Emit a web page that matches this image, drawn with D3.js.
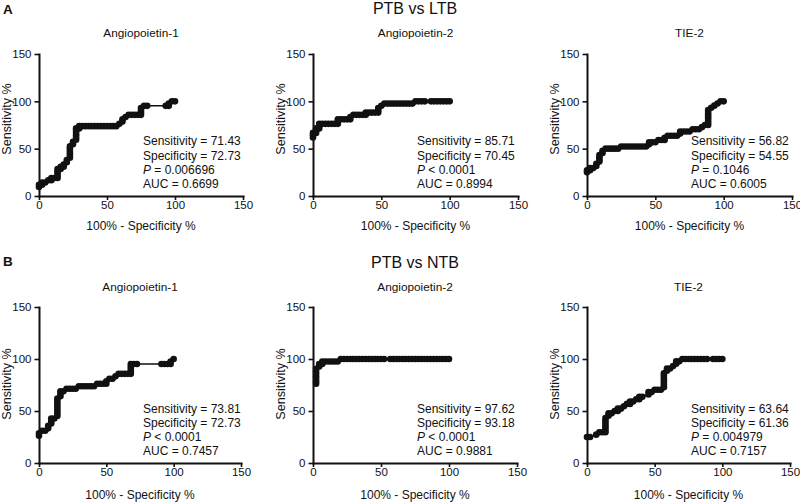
<!DOCTYPE html>
<html><head><meta charset="utf-8">
<script src="https://cdn.jsdelivr.net/npm/d3@7"></script>
<style>
html,body{margin:0;padding:0;background:#fff;}
svg{display:block;font-family:"Liberation Sans",Arial,sans-serif;}
</style></head>
<body><svg id="c" width="800" height="502"></svg>
<script>
// ---------- data ----------
const rowTitles = ["PTB vs LTB", "PTB vs NTB"];
const rowLetters = ["A", "B"];
const markers = ["Angiopoietin-1", "Angiopoietin-2", "TIE-2"];
const xTicks = [0, 50, 100, 150];
const yTicks = [0, 50, 100, 150];
const xLabel = "100% - Specificity %";
const yLabel = "Sensitivity %";

const sensValues = ["71.43", "85.71", "56.82", "73.81", "97.62", "63.64"];
const specValues = ["72.73", "70.45", "54.55", "72.73", "93.18", "61.36"];
const pValues = ["= 0.006696", "< 0.0001", "= 0.1046", "< 0.0001", "< 0.0001", "= 0.004979"];
const aucValues = ["0.6699", "0.8994", "0.6005", "0.7457", "0.9881", "0.7157"];

// ROC points: [100% - specificity, sensitivity]
const ltbAng1 = [[0,9.52],[0,11.9],[2.27,11.9],[2.27,14.29],[4.55,14.29],[6.82,16.67],[9.09,16.67],[9.09,19.05],[11.36,19.05],[13.64,19.05],[13.64,21.43],[13.64,23.81],[13.64,26.19],[13.64,28.57],[15.91,28.57],[15.91,30.95],[18.18,30.95],[18.18,33.33],[20.45,35.71],[20.45,38.1],[22.73,40.48],[22.73,42.86],[22.73,45.24],[22.73,47.62],[22.73,50],[22.73,52.38],[25,54.76],[25,57.14],[27.27,59.52],[27.27,61.9],[27.27,64.29],[27.27,66.67],[27.27,69.05],[27.27,71.43],[29.55,71.43],[29.55,73.81],[31.82,73.81],[34.09,73.81],[36.36,73.81],[38.64,73.81],[40.91,73.81],[43.18,73.81],[45.45,73.81],[47.73,73.81],[50,73.81],[52.27,73.81],[54.55,73.81],[56.82,73.81],[59.09,76.19],[61.36,78.57],[61.36,80.95],[63.64,83.33],[65.91,85.71],[68.18,85.71],[70.45,85.71],[72.73,85.71],[75,85.71],[75,88.1],[75,90.48],[75,92.86],[77.27,95.24],[79.55,95.24],[93.18,95.24],[95.45,95.24],[95.45,97.62],[97.73,100],[100,100]];
const ltbAng2 = [[0,61.9],[0,64.29],[0,66.67],[2.27,66.67],[2.27,69.05],[2.27,71.43],[4.55,71.43],[4.55,73.81],[4.55,76.19],[6.82,76.19],[9.09,76.19],[11.36,76.19],[13.64,76.19],[15.91,76.19],[18.18,76.19],[18.18,78.57],[18.18,80.95],[20.45,80.95],[22.73,80.95],[25,80.95],[27.27,80.95],[27.27,83.33],[29.55,85.71],[31.82,85.71],[34.09,85.71],[36.36,85.71],[38.64,85.71],[38.64,88.1],[40.91,88.1],[43.18,88.1],[45.45,88.1],[47.73,88.1],[47.73,90.48],[47.73,92.86],[50,95.24],[52.27,97.62],[54.55,97.62],[56.82,97.62],[59.09,97.62],[61.36,97.62],[63.64,97.62],[65.91,97.62],[68.18,97.62],[70.45,97.62],[72.73,97.62],[75,100],[77.27,100],[79.55,100],[81.82,100],[86.36,100],[88.64,100],[90.91,100],[93.18,100],[95.45,100],[97.73,100],[100,100]];
const ltbTie2 = [[0,25],[0,27.27],[2.27,27.27],[2.27,29.55],[4.55,29.55],[6.82,31.82],[6.82,34.09],[9.09,36.36],[9.09,38.64],[9.09,40.91],[9.09,43.18],[11.36,45.45],[11.36,47.73],[13.64,50],[15.91,50],[18.18,50],[20.45,50],[22.73,50],[25,52.27],[27.27,52.27],[29.55,52.27],[31.82,52.27],[34.09,52.27],[36.36,52.27],[38.64,52.27],[40.91,52.27],[43.18,52.27],[45.45,54.55],[45.45,56.82],[47.73,56.82],[50,56.82],[52.27,59.09],[54.55,59.09],[56.82,59.09],[56.82,61.36],[59.09,63.64],[61.36,63.64],[63.64,63.64],[65.91,63.64],[68.18,65.91],[68.18,68.18],[70.45,68.18],[72.73,68.18],[75,68.18],[77.27,70.45],[79.55,70.45],[81.82,70.45],[84.09,72.73],[86.36,75],[88.64,75],[88.64,77.27],[88.64,79.55],[88.64,81.82],[88.64,84.09],[88.64,86.36],[88.64,88.64],[88.64,90.91],[90.91,93.18],[93.18,95.45],[95.45,97.73],[97.73,100],[100,100]];
const ntbAng1 = [[0,26.19],[0,28.57],[2.27,30.95],[4.55,30.95],[6.82,33.33],[6.82,35.71],[9.09,38.1],[9.09,40.48],[9.09,42.86],[11.36,42.86],[13.64,45.24],[13.64,47.62],[13.64,50],[13.64,52.38],[13.64,54.76],[13.64,57.14],[13.64,59.52],[13.64,61.9],[15.91,64.29],[15.91,66.67],[15.91,69.05],[18.18,69.05],[20.45,71.43],[22.73,71.43],[25,71.43],[27.27,71.43],[29.55,73.81],[31.82,73.81],[34.09,73.81],[36.36,73.81],[38.64,73.81],[40.91,73.81],[43.18,76.19],[45.45,76.19],[47.73,76.19],[50,76.19],[50,78.57],[52.27,80.95],[54.55,80.95],[56.82,83.33],[59.09,85.71],[61.36,85.71],[63.64,85.71],[65.91,85.71],[68.18,85.71],[68.18,88.1],[68.18,90.48],[68.18,92.86],[68.18,95.24],[70.45,95.24],[72.73,95.24],[90.91,95.24],[93.18,95.24],[95.45,95.24],[97.73,95.24],[97.73,97.62],[100,100]];
const ntbAng2 = [[2.27,76.19],[2.27,78.57],[2.27,80.95],[2.27,83.33],[2.27,85.71],[2.27,88.1],[2.27,90.48],[4.55,92.86],[4.55,95.24],[6.82,95.24],[6.82,97.62],[9.09,97.62],[11.36,97.62],[13.64,97.62],[15.91,97.62],[18.18,97.62],[20.45,100],[22.73,100],[25,100],[27.27,100],[29.55,100],[31.82,100],[34.09,100],[36.36,100],[38.64,100],[40.91,100],[43.18,100],[45.45,100],[47.73,100],[50,100],[52.27,100],[56.82,100],[59.09,100],[61.36,100],[63.64,100],[65.91,100],[68.18,100],[70.45,100],[72.73,100],[75,100],[77.27,100],[79.55,100],[81.82,100],[84.09,100],[86.36,100],[88.64,100],[90.91,100],[93.18,100],[95.45,100],[97.73,100],[100,100]];
const ntbTie2 = [[0,25],[2.27,25],[6.82,27.27],[9.09,29.55],[11.36,29.55],[13.64,29.55],[13.64,31.82],[13.64,34.09],[13.64,36.36],[13.64,38.64],[13.64,40.91],[13.64,43.18],[15.91,45.45],[15.91,47.73],[18.18,47.73],[20.45,50],[22.73,50],[22.73,52.27],[25,52.27],[27.27,54.55],[29.55,56.82],[31.82,56.82],[31.82,59.09],[34.09,59.09],[36.36,61.36],[38.64,61.36],[38.64,63.64],[40.91,63.64],[45.45,65.91],[45.45,68.18],[47.73,68.18],[50,70.45],[52.27,70.45],[54.55,70.45],[56.82,72.73],[56.82,75],[56.82,77.27],[56.82,79.55],[56.82,81.82],[56.82,84.09],[56.82,86.36],[59.09,88.64],[59.09,90.91],[61.36,90.91],[63.64,93.18],[65.91,95.45],[65.91,97.73],[68.18,97.73],[70.45,100],[72.73,100],[75,100],[77.27,100],[79.55,100],[81.82,100],[84.09,100],[86.36,100],[88.64,100],[93.18,100],[95.45,100],[97.73,100],[100,100]];
const series = [ltbAng1, ltbAng2, ltbTie2, ntbAng1, ntbAng2, ntbTie2];

// ---------- layout ----------
const rows = [
  {top: 54, bottom: 196, letterY: 14, titleY: 13.5, subY: 36.7, xTitleY: 230.3, yTitleC: 119, annoY: 145.3,
   cols: [[39, 243], [313, 518], [587, 792]]},
  {top: 307, bottom: 463, letterY: 266, titleY: 268, subY: 291, xTitleY: 498.6, yTitleC: 384, annoY: 412.6,
   cols: [[39, 241], [313, 517], [587, 790]]}
];
const ink = "#111";
const svg = d3.select("#c");

rows.forEach((row, ri) => {
  svg.append("text").attr("x", 3).attr("y", row.letterY)
    .attr("font-size", 13.5).attr("font-weight", "bold").attr("fill", ink).text(rowLetters[ri]);
  svg.append("text").attr("x", 415).attr("y", row.titleY).attr("text-anchor", "middle")
    .attr("font-size", 16).attr("fill", ink).text(rowTitles[ri]);

  row.cols.forEach((c, ci) => {
    const idx = ri * 3 + ci;
    const x = d3.scaleLinear().domain([0, 150]).range([c[0], c[1]]);
    const y = d3.scaleLinear().domain([0, 150]).range([row.bottom, row.top]);
    const g = svg.append("g");
    const cx = (c[0] + c[1]) / 2;

    g.append("text").attr("x", cx).attr("y", row.subY).attr("text-anchor", "middle")
      .attr("font-size", 11.8).attr("fill", ink).text(markers[ci]);

    // axes
    const ax = g.append("g").attr("transform", `translate(0,${row.bottom})`)
      .call(d3.axisBottom(x).tickValues(xTicks).tickSize(4).tickSizeOuter(0).tickPadding(0.5));
    const ay = g.append("g").attr("transform", `translate(${c[0]},0)`)
      .call(d3.axisLeft(y).tickValues(yTicks).tickSize(4.5).tickSizeOuter(0).tickPadding(3));
    [ax, ay].forEach(a => {
      a.select(".domain").attr("stroke", ink).attr("stroke-width", 2).attr("stroke-linecap", "square");
      a.selectAll(".tick line").attr("stroke", ink).attr("stroke-width", 1.6);
      a.selectAll(".tick text").attr("font-size", 11.5).attr("fill", ink)
        .attr("font-family", "'Liberation Sans',Arial,sans-serif");
    });

    g.append("text").attr("x", cx).attr("y", row.xTitleY).attr("text-anchor", "middle")
      .attr("font-size", 12).attr("fill", ink).text(xLabel);
    g.append("text").attr("transform", `translate(${c[0] - 28},${row.yTitleC}) rotate(-90)`)
      .attr("text-anchor", "middle").attr("font-size", 12.6).attr("fill", ink).text(yLabel);

    // curve
    const pts = series[idx];
    g.append("path").datum(pts)
      .attr("d", d3.line().x(d => x(d[0])).y(d => y(d[1])))
      .attr("fill", "none").attr("stroke", ink).attr("stroke-width", 1.5);
    g.selectAll("circle.pt").data(pts).enter().append("circle")
      .attr("cx", d => x(d[0])).attr("cy", d => y(d[1])).attr("r", 3.3).attr("fill", ink);

    // annotation
    const tx = c[0] + 104;
    const lh = 14.2;
    const t = g.append("g").attr("font-size", 12).attr("fill", ink);
    t.append("text").attr("x", tx).attr("y", row.annoY).text("Sensitivity = " + sensValues[idx]);
    t.append("text").attr("x", tx).attr("y", row.annoY + lh).text("Specificity = " + specValues[idx]);
    const pt = t.append("text").attr("x", tx).attr("y", row.annoY + 2 * lh);
    pt.append("tspan").attr("font-style", "italic").text("P");
    pt.append("tspan").text(" " + pValues[idx]);
    t.append("text").attr("x", tx).attr("y", row.annoY + 3 * lh).text("AUC = " + aucValues[idx]);
  });
});
</script>
</body></html>
